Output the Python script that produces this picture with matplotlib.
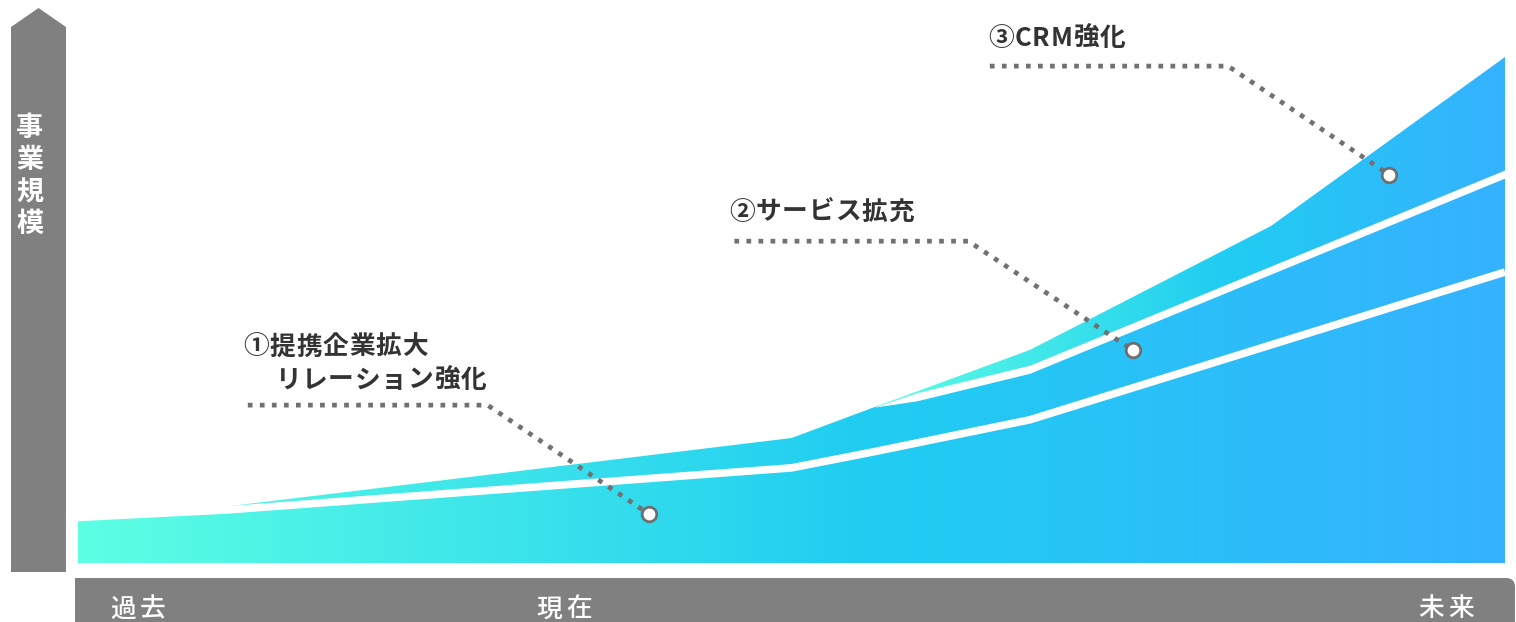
import numpy as np
import matplotlib.pyplot as plt
from matplotlib.colors import LinearSegmentedColormap
from matplotlib.patches import Polygon, FancyBboxPatch, Rectangle

plt.rcParams['font.family'] = ['Noto Sans CJK JP', 'DejaVu Sans']

W, H = 1516, 622

# 時間軸 (0 = 過去, 100 = 未来) と各施策の積み上げ幅
t = [0, 10.5, 50, 55.8, 66.7, 83.6, 100]
alliance = [9.0, 10.5, 18.8, 22.0, 28.3, 43.1, 57.5]
service = [0, 0.7, 5.9, 8.8, 10.0, 14.8, 19.4]
crm = [0, 0, 0, 0, 3.8, 8.7, 23.1]

y_title = '事業規模'
periods = ['過去', '現在', '未来']

callout_titles = [['①提携企業拡大', 'リレーション強化'], ['②サービス拡充'], ['③CRM強化']]
callout_points = [(40.0, 9.7), (73.9, 42.1), (91.9, 76.7)]

GRAY = '#808080'
DOT = '#727070'
INK = '#333333'

fig = plt.figure(figsize=(W / 100, H / 100), dpi=100)
r = fig.canvas.get_renderer()

# 背景の装飾用 (ピクセル座標)
deco = fig.add_axes([0, 0, 1, 1])
deco.set_xlim(0, W)
deco.set_ylim(H, 0)
deco.axis('off')

# グラフ本体
px_l, px_r, px_b, px_t = 78, 1505, 563, 57
ax = fig.add_axes([px_l / W, (H - px_b) / H, (px_r - px_l) / W, (px_b - px_t) / H])
ax.axis('off')


def tracked_text(x, y, s, size, track, **kw):
    em = size * fig.dpi / 72
    for ch in s:
        if ord(ch) < 0x2000:
            txt = deco.text(x, y, ch, fontsize=size, ha='left', va='center', **kw)
            x += txt.get_window_extent(r).width + track
        else:
            deco.text(x + em / 2, y, ch, fontsize=size, ha='center', va='center', **kw)
            x += em + track


# 縦軸の矢印
deco.add_patch(Polygon([(11, 572), (11, 27), (38.5, 8), (66, 27), (66, 572)],
                       closed=True, fc=GRAY, ec='none'))
for i, ch in enumerate(y_title):
    deco.text(30, 128 + i * 32, ch, fontsize=19.5, fontweight='bold', color='white',
              ha='center', va='center')

# 横軸の帯
deco.add_patch(FancyBboxPatch((75, 578), 1440, 80, boxstyle='round,pad=0,rounding_size=9',
                              fc=GRAY, ec='none'))
deco.add_patch(Rectangle((75, 578), 30, 80, fc=GRAY, ec='none'))
for cx, lab in zip([138, 564, 1446], periods):
    size, track = 18.5, 4.0
    em = size * 100 / 72
    tracked_text(cx - (em * len(lab) + track * (len(lab) - 1)) / 2, 609, lab, size, track,
                 color='white', fontweight='medium')

# 積み上げエリア (各層ごとに横方向グラデーション)
cmap = LinearSegmentedColormap.from_list(
    'biz', [(0, '#5DFFE3'), (0.55, '#20CDF1'), (1, '#35B2FF')])
grad = np.linspace(0, 1, 256)[None, :]

top1 = np.array(alliance)
top2 = top1 + np.array(service)
top3 = top2 + np.array(crm)
layers = [(np.zeros_like(top1), top1, t[0]), (top1, top2, t[0]), (top2, top3, t[3])]
for lo, hi, x0 in layers:
    poly = ax.fill_between(t, lo, hi, facecolor='none', edgecolor='none')
    im = ax.imshow(grad, cmap=cmap, extent=[x0, 100, 0, 100], aspect='auto',
                   origin='lower', zorder=1)
    im.set_clip_path(poly.get_paths()[0], transform=ax.transData)

# 層の境目の白線 (上の境目は CRM 層の先端から徐々に太くする)
ax.plot(t, top1, color='white', lw=5.5, solid_capstyle='butt', zorder=2)
xs = np.linspace(t[3], t[-1], 600)
mid = np.interp(xs, t, top2)
half = 0.8 * np.clip((xs - t[3]) / 3.0, 0, 1)
ax.fill_between(xs, mid - half, mid + half, color='white', lw=0, zorder=2)
ax.set_xlim(0, 100)
ax.set_ylim(0, 100)

# 吹き出しの点線
label_lines = [(11.9, 28.7, 31.2), (46.0, 62.4, 63.6), (63.9, 80.6, 98.2)]
for (x0, x1, yl), (px, py) in zip(label_lines, callout_points):
    ax.plot([x0, x1, px], [yl, yl, py], color=DOT, lw=3.4, linestyle=(0, (1, 1.55)),
            dash_capstyle='butt', clip_on=False, zorder=3)
    ax.plot(px, py, 'o', ms=10.5, mfc='white', mec='#6E6E6E', mew=2.0,
            clip_on=False, zorder=4)

label_pos = [[(243, 347), (275, 380)], [(729, 212)], [(988, 38)]]
for lines, poss in zip(callout_titles, label_pos):
    for s, (x, y) in zip(lines, poss):
        tracked_text(x, y, s, 18.5, 0.8, color=INK, fontweight='bold')

fig.savefig('out.png', dpi=100)
